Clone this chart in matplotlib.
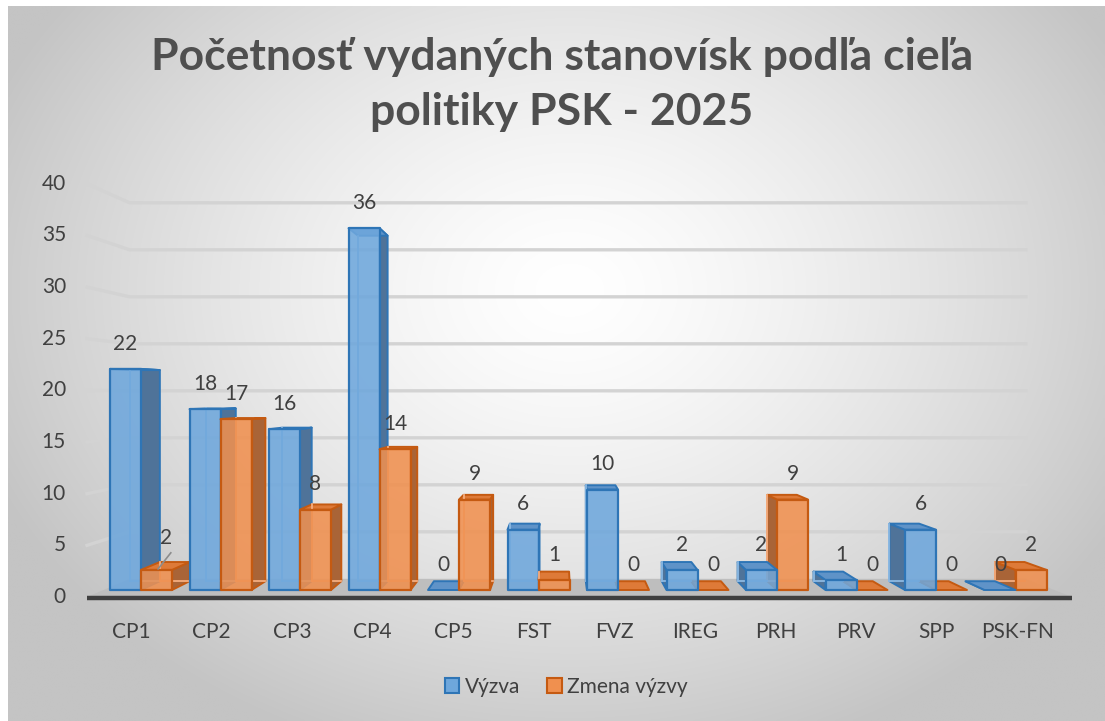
import numpy as np
import matplotlib
matplotlib.use("Agg")
import matplotlib.pyplot as plt
from matplotlib.patches import Polygon, Rectangle, Patch

# ---------------- data ----------------
categories = ["CP1", "CP2", "CP3", "CP4", "CP5", "FST", "FVZ", "IREG", "PRH", "PRV", "SPP", "PSK-FN"]
vyzva = [22, 18, 16, 36, 0, 6, 10, 2, 2, 1, 6, 0]
zmena = [2, 17, 8, 14, 9, 1, 0, 0, 9, 0, 0, 2]
series_names = ["Výzva", "Zmena výzvy"]
yticks = [0, 5, 10, 15, 20, 25, 30, 35, 40]
title_lines = ["Početnosť vydaných stanovísk podľa cieľa", "politiky PSK - 2025"]

W, H = 1105, 721
FONT = "Lato"
TXT = "#404040"
FS = 15

fig = plt.figure(figsize=(W / 100, H / 100), dpi=100)
fig.patch.set_facecolor("white")

# ---------------- background radial gradient ----------------
bg = fig.add_axes([8 / W, 0, 1 - 8 / W, 1 - 6 / H])
bg.set_axis_off()
gx = np.linspace(8, W, 400)
gy = np.linspace(6, H, 300)
X, Y = np.meshgrid(gx, gy)
r = np.sqrt(((X - 570) / 630) ** 2 + ((Y - 290) / 490) ** 2)
r = np.clip(r, 0, 1)
g = (255 - (255 - 196) * r ** 1.4) / 255.0
bg.imshow(np.dstack([g, g, g]), extent=[0, 1, 0, 1], aspect="auto", origin="upper",
          transform=bg.transAxes, interpolation="bilinear")
bg.set_xlim(0, 1)
bg.set_ylim(0, 1)

# ---------------- main axes (bar front-face plane) ----------------
# pixel mapping: x = 141 + 79.5*i, y = 590 - 10.05*v
px_l, px_r, px_t, px_b = 60, 1095, 155, 660
ax = fig.add_axes([px_l / W, (H - px_b) / H, (px_r - px_l) / W, (px_b - px_t) / H])
ax.set_xlim((px_l - 141) / 79.5, (px_r - 141) / 79.5)
ax.set_ylim((590 - px_b) / 10.05, (590 - px_t) / 10.05)
ax.set_axis_off()

vx, vy = (560 - 141) / 79.5, (590 - 395) / 10.05   # vanishing point


def proj(x, y, t):
    return x + t * (vx - x), y + t * (vy - y)


def yfront(v):
    # front plane (tick labels / floor edge) vertical position
    return (10.33 * v - 7) / 10.05


x_fl, x_fr = (87 - 141) / 79.5, (1072 - 141) / 79.5
kw = 0.09

# walls gridlines
for v in yticks[1:]:
    yf = yfront(v)
    bxl, byl = proj(x_fl, yf, kw)
    bxr, byr = proj(x_fr, yf, kw)
    ax.plot([x_fl, bxl, bxr], [yf, byl, byr], color="#D3D3D3", lw=2.4,
            solid_joinstyle="round", zorder=1)

# floor
yf0 = yfront(0)
bl = proj(x_fl, yf0, kw)
br = proj(x_fr, yf0, kw)
ax.add_patch(Polygon([(x_fl, yf0), (x_fr, yf0), br, bl], closed=True,
                     facecolor="#BEBEBE", edgecolor="none", zorder=2))
ax.plot([x_fl, x_fr], [yf0 - 0.12, yf0 - 0.12], color="#3F3F3F", lw=3.2,
        solid_capstyle="butt", zorder=2.5)

# y tick labels
for v in yticks:
    ax.text((66 - 141) / 79.5, yfront(v), str(v), ha="right", va="center",
            fontsize=FS, color=TXT, family=FONT)

# category labels
for i, c in enumerate(categories):
    ax.text(i - 0.125 + 0.0135 * i, (590 - 632) / 10.05, c, ha="center", va="center",
            fontsize=FS, color=TXT, family=FONT)

# ---------------- 3D bars ----------------
bw = 31 / 79.5
tb = 0.045
styles = [
    dict(front="#6EA7DC", edge="#2E75B6", side="#4F7399", top="#5F93C8", inner="#8CB9E3"),
    dict(front="#F0904F", edge="#C55A11", side="#A96437", top="#DE7A38", inner="#F5AE80"),
]

bars = []
for i in range(len(categories)):
    bars.append((i - bw, vyzva[i], 0, i))
    bars.append((i, zmena[i], 1, i))
# far-from-vanishing-point first
bars.sort(key=lambda b: -abs(b[0] + bw / 2 - vx))

for k, (x0, h, s, i) in enumerate(bars):
    st = styles[s]
    x1 = x0 + bw
    z = 3 + k * 0.01
    b00 = proj(x0, 0, tb); b10 = proj(x1, 0, tb)
    b0h = proj(x0, h, tb); b1h = proj(x1, h, tb)
    # side face
    if x1 < vx:
        ax.add_patch(Polygon([(x1, 0), (x1, h), b1h, b10], closed=True, facecolor=st["side"],
                             edgecolor=st["edge"], lw=1.4, zorder=z, joinstyle="round"))
    elif x0 > vx:
        ax.add_patch(Polygon([(x0, 0), (x0, h), b0h, b00], closed=True, facecolor=st["side"],
                             edgecolor=st["edge"], lw=1.4, zorder=z, joinstyle="round"))
    # top face
    ax.add_patch(Polygon([(x0, h), (x1, h), b1h, b0h], closed=True, facecolor=st["top"],
                         edgecolor=st["edge"], lw=1.4, zorder=z + 0.001, joinstyle="round"))
    if h > 0:
        # hidden back edges (seen through the translucent front)
        ax.plot([b00[0], b0h[0]], [b00[1], b0h[1]], color=st["inner"], lw=1.3, zorder=z + 0.002)
        ax.plot([b00[0], b10[0]], [b00[1], b10[1]], color=st["inner"], lw=1.3, zorder=z + 0.002)
        ax.add_patch(Rectangle((x0, 0), bw, h, facecolor=st["front"], edgecolor="none",
                               alpha=0.88, zorder=z + 0.003))
        ax.add_patch(Rectangle((x0, 0), bw, h, facecolor="none", edgecolor=st["edge"],
                               lw=1.6, zorder=z + 0.004, joinstyle="round"))

# data labels
for i in range(len(categories)):
    for s, vals in enumerate([vyzva, zmena]):
        v = vals[i]
        xc = i - bw / 2 if s == 0 else i + bw / 2
        if i == 0 and s == 1:
            # label moved up with a leader line
            ax.text(xc + 0.12, v + 3.2, str(v), ha="center", va="center",
                    fontsize=FS, color=TXT, family=FONT, zorder=10)
            ax.plot([xc + 0.02, xc + 0.18], [v + 0.1, v + 1.7], color="#8C8C8C", lw=1.2, zorder=10)
        else:
            ax.annotate(str(v), xy=(xc, v), xytext=(0, 11), textcoords="offset points",
                        ha="center", va="bottom", fontsize=FS, color=TXT, family=FONT, zorder=10)

# title
for j, line in enumerate(title_lines):
    fig.text(562 / W, 1 - (57 + 55 * j) / H, line, ha="center", va="center",
             fontsize=32, fontweight="bold", color="#4F4F4F", family=FONT)

# legend
handles = [Patch(facecolor=styles[0]["front"], edgecolor=styles[0]["edge"], lw=1.5),
           Patch(facecolor=styles[1]["front"], edgecolor=styles[1]["edge"], lw=1.5)]
leg = fig.legend(handles, series_names, loc="center", bbox_to_anchor=(566 / W, 1 - 687 / H),
                 ncol=2, frameon=False, handlelength=0.7, handleheight=0.7,
                 handletextpad=0.25, columnspacing=1.3,
                 prop=dict(family=FONT, size=FS))
for t in leg.get_texts():
    t.set_color(TXT)

fig.savefig("out.png", dpi=100)
